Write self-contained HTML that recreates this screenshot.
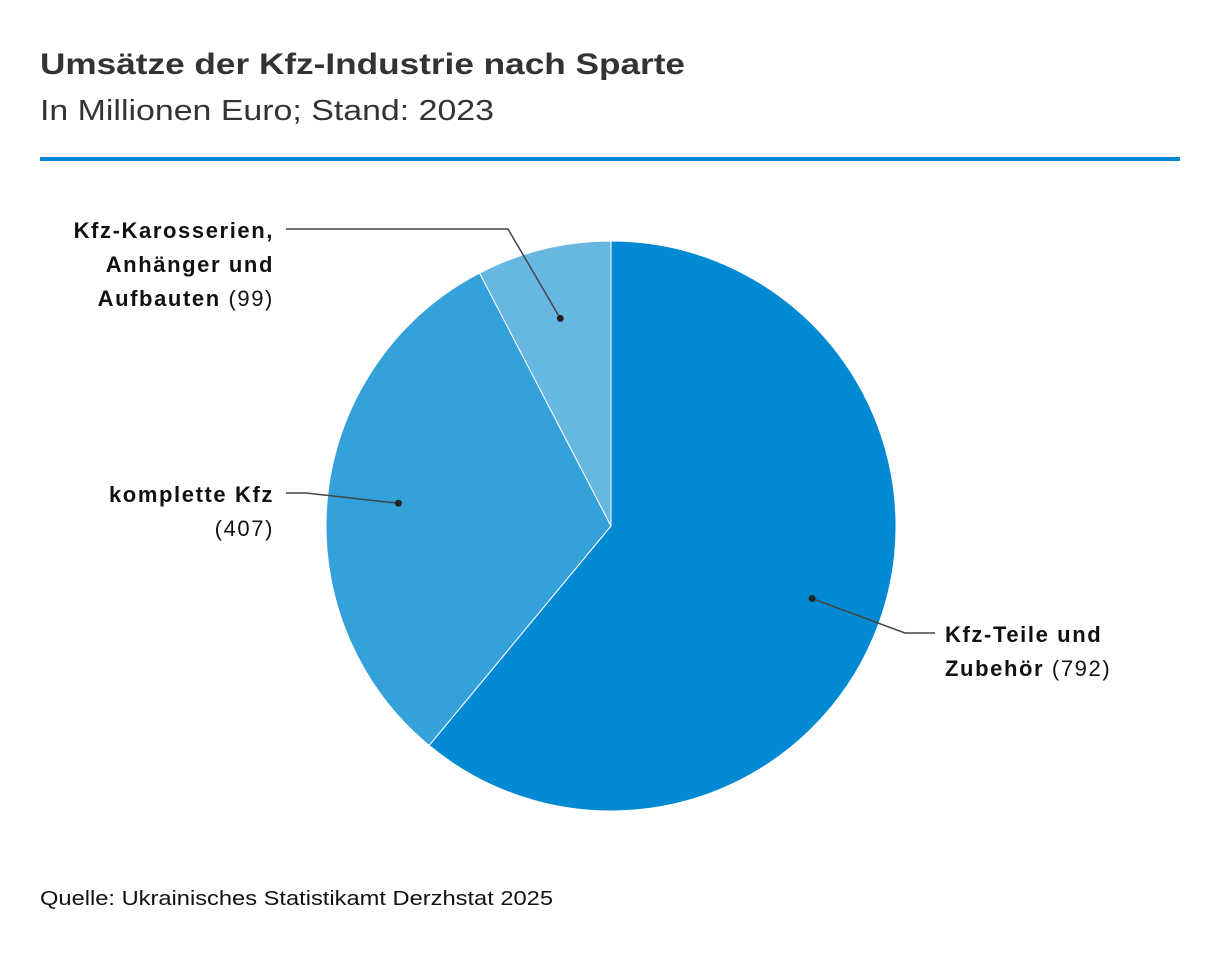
<!DOCTYPE html>
<html><head><meta charset="utf-8"><style>
body{margin:0;width:1220px;height:954px;background:#fff;font-family:"Liberation Sans",sans-serif;overflow:hidden}
</style></head><body>
<svg width="1220" height="954" xmlns="http://www.w3.org/2000/svg">
<text x="40" y="74" font-size="30" font-weight="bold" fill="#333" textLength="645" lengthAdjust="spacingAndGlyphs">Umsätze der Kfz-Industrie nach Sparte</text>
<text x="40" y="120" font-size="29" fill="#333" textLength="454" lengthAdjust="spacingAndGlyphs">In Millionen Euro; Stand: 2023</text>
<rect x="40" y="157" width="1140" height="4" fill="#0289d3"/>
<g id="pie"></g>
<g id="labels"></g>
<text x="40" y="905" font-size="20" fill="#111" textLength="513" lengthAdjust="spacingAndGlyphs">Quelle: Ukrainisches Statistikamt Derzhstat 2025</text>
</svg>
<script>
const categories=["Kfz-Teile und Zubehör","komplette Kfz","Kfz-Karosserien, Anhänger und Aufbauten"];
const values=[792,407,99];
const colors=["#0289d3","#35a1db","#67b7e3"];
const cx=611,cy=526,R=285,NS="http://www.w3.org/2000/svg";
const total=values.reduce((a,b)=>a+b,0);
const pt=(a,r)=>[cx+r*Math.sin(a),cy-r*Math.cos(a)];
const pie=document.getElementById('pie'),lab=document.getElementById('labels');
let a0=0;const mids=[];
values.forEach((v,i)=>{
 const a1=a0+v/total*2*Math.PI;
 const p0=pt(a0,R),p1=pt(a1,R);
 const large=(a1-a0)>Math.PI?1:0;
 const p=document.createElementNS(NS,'path');
 p.setAttribute('d',`M${cx},${cy}L${p0[0]},${p0[1]}A${R},${R} 0 ${large} 1 ${p1[0]},${p1[1]}Z`);
 p.setAttribute('fill',colors[i]);p.setAttribute('stroke','#fff');p.setAttribute('stroke-width','1');
 
 
 pie.appendChild(p);
 mids.push((a0+a1)/2);a0=a1;
});
const lay=[
 {elb:[905,633],end:935,anchor:'start',tx:945,ty:642,lines:[["Kfz-Teile und",""],["Zubehör"," (792)"]]},
 {elb:[306,493],end:286,anchor:'end',tx:274,ty:502,lines:[["komplette Kfz",""],[""," (407)"]]},
 {elb:[508,229],end:286,anchor:'end',tx:274,ty:238,lines:[["Kfz-Karosserien,",""],["Anhänger und",""],["Aufbauten"," (99)"]]}
];
lay.forEach((L,i)=>{
 const d=pt(mids[i],R*0.75);
 const pl=document.createElementNS(NS,'polyline');
 pl.setAttribute('points',`${d[0]},${d[1]} ${L.elb[0]},${L.elb[1]} ${L.end},${L.elb[1]}`);
 pl.setAttribute('fill','none');pl.setAttribute('stroke','#444');pl.setAttribute('stroke-width','1.5');
 
 
 lab.appendChild(pl);
 const c=document.createElementNS(NS,'circle');
 c.setAttribute('cx',d[0]);c.setAttribute('cy',d[1]);c.setAttribute('r','3.5');c.setAttribute('fill','#222');
 
 
 lab.appendChild(c);
 L.lines.forEach((ln,j)=>{
  const t=document.createElementNS(NS,'text');
  t.setAttribute('x',L.tx);t.setAttribute('y',L.ty+j*34);t.setAttribute('text-anchor',L.anchor);
  t.setAttribute('font-size','22');t.setAttribute('fill','#111');t.setAttribute('letter-spacing','1.6');
  
  
  if(ln[0]){const b=document.createElementNS(NS,'tspan');b.setAttribute('font-weight','bold');b.textContent=ln[0];t.appendChild(b);}
  if(ln[1]){const s=document.createElementNS(NS,'tspan');s.textContent=ln[1];t.appendChild(s);}
  lab.appendChild(t);
 });
});
</script>
</body></html>
